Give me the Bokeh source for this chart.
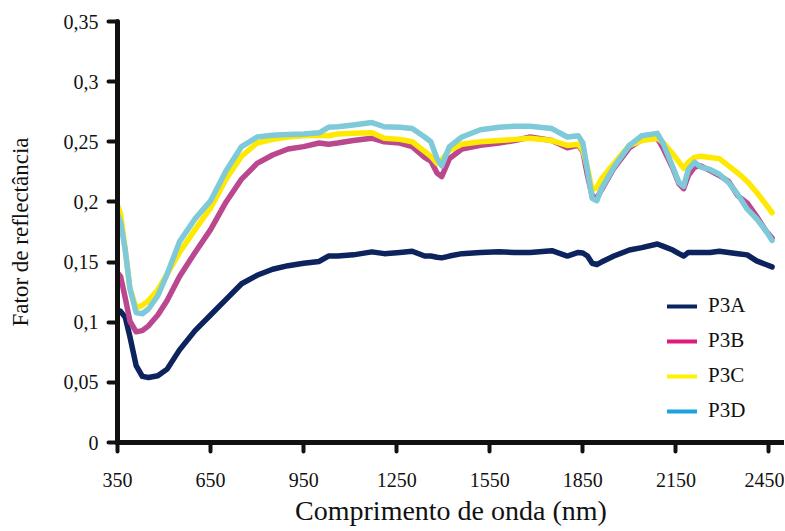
from bokeh.plotting import figure
from bokeh.models import FixedTicker, Legend, LegendItem, Range1d
from bokeh.embed import file_html
from bokeh.resources import INLINE

wavelength = [350, 360, 375, 390, 410, 430, 450, 480, 510, 550, 600, 650, 700, 750, 800,
              850, 900, 950, 1000, 1030, 1060, 1110, 1170, 1210, 1260, 1300, 1340, 1360,
              1380, 1395, 1420, 1460, 1520, 1580, 1630, 1680, 1750, 1800, 1835, 1850, 1865,
              1880, 1895, 1910, 1950, 2000, 2040, 2090, 2110, 2140, 2160, 2175, 2190, 2210,
              2230, 2260, 2290, 2320, 2350, 2380, 2410, 2440, 2460]

p3a = [0.110, 0.109, 0.104, 0.088, 0.064, 0.055, 0.054, 0.0555, 0.061, 0.077, 0.093, 0.106,
       0.119, 0.132, 0.139, 0.144, 0.147, 0.149, 0.1505, 0.155, 0.155, 0.156, 0.1585, 0.157,
       0.158, 0.159, 0.155, 0.155, 0.154, 0.1535, 0.155, 0.157, 0.158, 0.1585, 0.158, 0.158,
       0.1595, 0.155, 0.158, 0.1575, 0.155, 0.149, 0.148, 0.150, 0.155, 0.160, 0.162, 0.165,
       0.163, 0.160, 0.157, 0.155, 0.158, 0.158, 0.158, 0.158, 0.159, 0.158, 0.157, 0.156,
       0.151, 0.148, 0.146]

p3b = [0.141, 0.138, 0.120, 0.101, 0.092, 0.093, 0.097, 0.106, 0.118, 0.138, 0.158, 0.177,
       0.200, 0.219, 0.232, 0.239, 0.244, 0.246, 0.249, 0.248, 0.249, 0.251, 0.253, 0.250,
       0.249, 0.246, 0.237, 0.234, 0.224, 0.221, 0.236, 0.244, 0.247, 0.249, 0.251, 0.254,
       0.251, 0.245, 0.247, 0.242, 0.222, 0.205, 0.203, 0.210, 0.228, 0.245, 0.252, 0.253,
       0.244, 0.228, 0.215, 0.211, 0.222, 0.229, 0.230, 0.226, 0.222, 0.217, 0.205, 0.199,
       0.188, 0.176, 0.170]

p3c = [0.197, 0.190, 0.160, 0.128, 0.112, 0.114, 0.118, 0.127, 0.140, 0.158, 0.177, 0.195,
       0.219, 0.238, 0.249, 0.252, 0.254, 0.255, 0.2555, 0.255, 0.2565, 0.257, 0.2575, 0.253,
       0.252, 0.250, 0.242, 0.238, 0.232, 0.235, 0.243, 0.248, 0.250, 0.251, 0.252, 0.253,
       0.251, 0.247, 0.248, 0.243, 0.228, 0.210, 0.212, 0.219, 0.232, 0.247, 0.251, 0.253,
       0.249, 0.240, 0.233, 0.228, 0.233, 0.237, 0.238, 0.237, 0.236, 0.230, 0.224, 0.217,
       0.208, 0.198, 0.191]

p3d = [0.190, 0.183, 0.160, 0.128, 0.108, 0.107, 0.111, 0.122, 0.140, 0.167, 0.186, 0.201,
       0.226, 0.246, 0.254, 0.2555, 0.256, 0.2565, 0.2575, 0.262, 0.2625, 0.264, 0.266, 0.2625,
       0.262, 0.261, 0.254, 0.250, 0.236, 0.230, 0.246, 0.254, 0.260, 0.262, 0.263, 0.263,
       0.261, 0.254, 0.255, 0.249, 0.226, 0.203, 0.201, 0.211, 0.229, 0.247, 0.255, 0.257,
       0.248, 0.229, 0.216, 0.213, 0.227, 0.233, 0.229, 0.227, 0.223, 0.216, 0.206, 0.194,
       0.186, 0.176, 0.168]

series_names = ["P3A", "P3B", "P3C", "P3D"]
series_values = [p3a, p3b, p3c, p3d]
line_colors = ["#0c235e", "#bb488e", "#ffe900", "#7ecad9"]
legend_colors = ["#0b2462", "#e0197f", "#fff200", "#1aa3dc"]

x_ticks = [350, 650, 950, 1250, 1550, 1850, 2150, 2450]
y_ticks = [0, 0.05, 0.1, 0.15, 0.2, 0.25, 0.3, 0.35]
y_tick_labels = ["0", "0,05", "0,1", "0,15", "0,2", "0,25", "0,3", "0,35"]

FONT = "Liberation Serif"

p = figure(width=784, height=531, output_backend="svg", toolbar_location=None,
           x_range=Range1d(350, 2500), y_range=Range1d(0, 0.35),
           min_border_left=117, min_border_right=0, min_border_top=21, min_border_bottom=89)

p.xgrid.visible = False
p.ygrid.visible = False
p.outline_line_color = None
p.background_fill_color = "white"

for vals, col in zip(series_values, line_colors):
    p.line(wavelength, vals, line_width=5.5, color=col, line_join="round", line_cap="round")

items = []
for name, vals, col in zip(series_names, series_values, legend_colors):
    r = p.line(wavelength, vals, line_width=4, color=col, line_cap="round", visible=False)
    items.append(LegendItem(label=name, renderers=[r]))

legend = Legend(items=items, location=(550, 19), background_fill_alpha=0,
                border_line_alpha=0, padding=0, margin=0, spacing=10,
                glyph_width=30, glyph_height=20, label_height=20, label_standoff=11,
                label_text_font=FONT, label_text_font_size="21px",
                label_text_color="#111111", inactive_fill_alpha=0)
p.add_layout(legend)

p.xaxis.ticker = FixedTicker(ticks=x_ticks)
p.yaxis.ticker = FixedTicker(ticks=y_ticks)
p.yaxis.major_label_overrides = {t: l for t, l in zip(y_ticks, y_tick_labels)}

for ax in (p.xaxis, p.yaxis):
    ax.axis_line_width = 5
    ax.axis_line_color = "#111111"
    ax.axis_line_cap = "round"
    ax.major_tick_line_width = 4
    ax.major_tick_line_color = "#111111"
    ax.major_tick_line_cap = "round"
    ax.major_tick_out = 9
    ax.major_tick_in = 0
    ax.minor_tick_out = 0
    ax.minor_tick_in = 0
    ax.major_label_text_font = FONT
    ax.major_label_text_font_size = "20px"
    ax.major_label_text_color = "#111111"
    ax.axis_label_text_font = FONT
    ax.axis_label_text_font_style = "normal"
    ax.axis_label_text_color = "#111111"

p.xaxis.axis_label = "Comprimento de onda (nm)"
p.yaxis.axis_label = "Fator de reflectância"
p.xaxis.axis_label_text_font_size = "28px"
p.yaxis.axis_label_text_font_size = "23px"
p.xaxis.major_label_standoff = 21
p.xaxis.axis_label_standoff = 5
p.yaxis.major_label_standoff = 10
p.yaxis.axis_label_standoff = 28

open("out.html", "w").write(file_html(p, INLINE))
